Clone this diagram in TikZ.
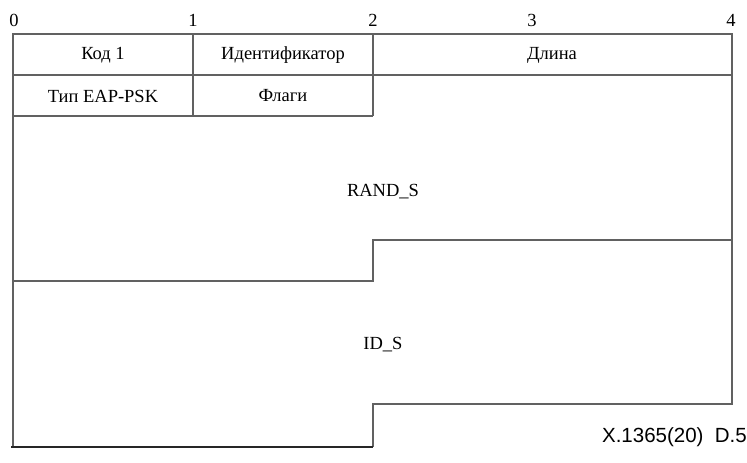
\documentclass[tikz,border=0pt]{standalone}
\usepackage{fontspec}
\setmainfont{Liberation Serif}
\newfontfamily\figfont{Liberation Sans}
\begin{document}
\begin{tikzpicture}[x=1pt,y=-1pt,
    fld/.style={draw=black!62,line width=1.7pt},
    lbl/.style={font=\fontsize{18.5}{18.5}\selectfont,inner sep=0pt}]
      \useasboundingbox (0,0) rectangle (747,463);
      % frame
      \draw[fld] (13,447) -- (13,34) -- (732,34) -- (732,404) -- (373,404) -- (373,447);
      \draw[fld] (13,75) -- (732,75);
      \draw[fld] (193,34) -- (193,116);
      \draw[fld] (373,34) -- (373,116);
      \draw[fld] (13,116) -- (373,116);
      \draw[fld] (13,281) -- (373,281) -- (373,240) -- (732,240);
      \draw[black!85,line width=2.4pt] (11,447) -- (373,447);
      % octet scale
      \node[lbl] (s0) at (14,20) {0};
      \node[lbl] (s1) at (193,20) {1};
      \node[lbl] (s2) at (373,20) {2};
      \node[lbl] (s3) at (532,20) {3};
      \node[lbl] (s4) at (731,20) {4};
      % fields
      \node[lbl] (code) at (103,55) {Код 1};
      \node[lbl] (ident) at (283,55) {Идентификатор};
      \node[lbl] (len) at (552,55) {Длина};
      \node[lbl] (type) at (103,96) {Тип EAP-PSK};
      \node[lbl] (flags) at (283,96) {Флаги};
      \node[lbl] (rands) at (383,192) {RAND\_S};
      \node[lbl] (ids) at (383,345) {ID\_S};
      \node[font=\figfont\fontsize{20.5}{20.5}\selectfont,inner sep=0pt,anchor=east] (tag) at (747,437) {X.1365(20)\ \ D.5};
\end{tikzpicture}
\end{document}
